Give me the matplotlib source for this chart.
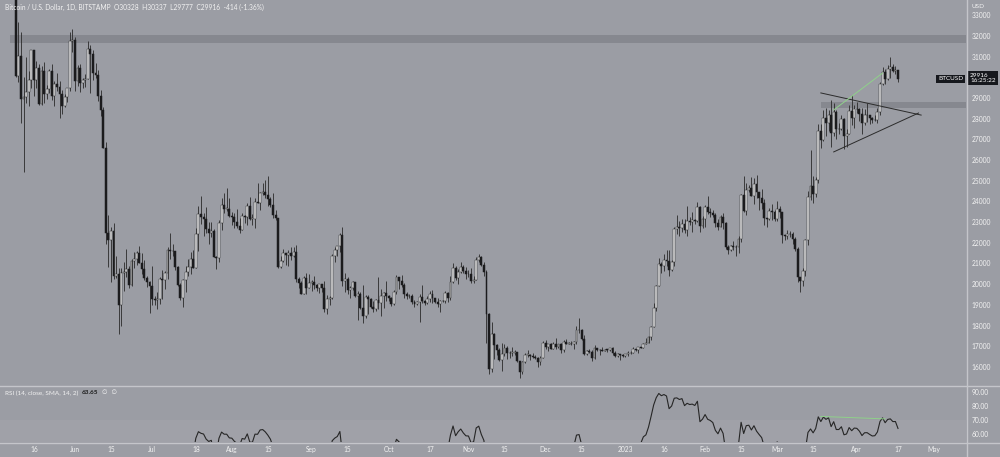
import numpy as np
import pandas as pd
import matplotlib
matplotlib.use("Agg")
import matplotlib.pyplot as plt
from matplotlib.lines import Line2D

# daily BTC/USD (Bitstamp), 2022-05-09 .. 2023-04-17
first_open = 34060
# closes 2022-04-01 .. 2022-05-08, above the visible range; only used to warm up the RSI
warmup_closes = [
    46300, 45800, 46400, 46600, 45500, 43200, 43450, 42250, 42750, 42160, 39530, 40070, 41150, 39940, 40550, 40400,
    39700, 40800, 41500, 41370, 40480, 39710, 39470, 39450, 40430, 38120, 39240, 39740, 38600, 37650, 38470, 38530,
    37750, 39690, 36550, 36010, 35470, 34060,
]
closes = [
    # May
    30080, 31020, 28940, 29050, 29280, 29850, 31300, 29860, 30430, 28700, 30300, 29180, 29430, 30280, 29100, 29650,
    29540, 29200, 28620, 29020, 29460, 31730, 31790,
    # Jun
    29800, 30450, 29700, 29860, 29910, 31370, 31130, 30200, 30100, 29090, 28420, 26580, 22490, 22130, 22580, 20390,
    20470, 19010, 20560, 20580, 20720, 19970, 21100, 21230, 21500, 21030, 20730, 20280, 20110, 19930,
    # Jul
    19300, 19250, 19300, 20230, 20190, 20550, 21640, 21590, 21590, 20850, 19960, 19330, 20220, 20590, 20830, 21200,
    20780, 22430, 23390, 23230, 23160, 22680, 22450, 22580, 21310, 21250, 22950, 23850, 23640, 23640, 23300,
    # Aug
    23270, 22990, 22820, 22620, 23310, 23260, 23800, 23150, 23150, 23950, 23940, 24400, 24440, 24300, 24100, 23850,
    23340, 23190, 20830, 21140, 21510, 21400, 21520, 21370, 21560, 20240, 20040, 19550, 20280, 19800, 20050,
    # Sep
    20130, 19950, 19830, 19990, 19800, 18790, 19290, 19320, 21360, 21650, 21830, 22400, 20170, 20230, 19700, 19800,
    20110, 19420, 19540, 18870, 18480, 19400, 19300, 18920, 18800, 19230, 19080, 19410, 19590, 19420,
    # Oct
    19310, 19060, 19630, 20340, 20160, 19960, 19530, 19420, 19440, 19130, 19060, 19160, 19380, 19180, 19070, 19270,
    19550, 19330, 19120, 19040, 19170, 19210, 19570, 19330, 20090, 20770, 20290, 20600, 20820, 20630, 20490,
    # Nov
    20480, 20160, 20210, 21150, 21300, 20910, 20600, 18540, 15880, 17590, 17070, 16810, 16330, 16620, 16900, 16660,
    16690, 16700, 16710, 16280, 15780, 16230, 16600, 16600, 16520, 16460, 16440, 16220, 16440, 17170,
    # Dec
    16980, 17090, 16890, 17110, 16970, 17090, 16840, 17230, 17130, 17130, 17090, 17210, 17780, 17810, 17360, 16630,
    16780, 16740, 16440, 16900, 16820, 16820, 16780, 16840, 16830, 16920, 16700, 16540, 16630, 16600, 16540,
    # Jan
    16610, 16670, 16670, 16850, 16830, 16950, 16940, 17120, 17180, 17440, 17940, 18850, 19930, 20960, 20880, 21180,
    21130, 20680, 21070, 22680, 22780, 22710, 22920, 22630, 23060, 23010, 23080, 23030, 23740, 22830, 23130,
    # Feb
    23730, 23490, 23430, 23330, 22940, 22760, 23240, 22960, 21800, 21630, 21860, 21790, 21780, 22200, 24330, 23520,
    24570, 24630, 24280, 24840, 24440, 24180, 23940, 23190, 23160, 23550, 23490, 23140,
    # Mar
    23630, 23470, 22360, 22350, 22430, 22410, 22200, 21700, 20360, 20150, 20620, 22140, 24200, 24750, 24380, 25050,
    27420, 26950, 28030, 27800, 28170, 27300, 28330, 27490, 27490, 27990, 27140, 27270, 28350, 28030, 28480,
    # Apr
    28450, 28200, 27800, 28170, 28180, 28040, 27920, 27950, 28330, 29650, 30230, 29900, 30400, 30490, 30320, 30328,
    29916,
]
highs = [
    34250, 32650, 32160, 30030, 30980, 30290, 31320, 31300, 30760, 30660, 30520, 30730, 29600, 30420, 30640, 29800,
    30200, 29820, 29370, 29210, 29500, 32200, 32340,
    31950, 30600, 30650, 29950, 30150, 31760, 31550, 31330, 30690, 30330, 29400, 28540, 26880, 23330, 22750, 22960,
    21350, 20770, 20770, 21050, 21700, 20870, 21200, 21540, 21600, 21860, 21520, 21180, 20420, 20150,
    20870, 19420, 19640, 20330, 20710, 20650, 21820, 22450, 21940, 21600, 20860, 20050, 20250, 20870, 21200, 21570,
    21650, 22700, 23780, 24270, 23420, 23750, 22990, 23000, 22660, 21370, 23080, 24180, 24420, 24650, 24170,
    23510, 23440, 23620, 23200, 23440, 23340, 23900, 24230, 23390, 24180, 24900, 24450, 24880, 25050, 25210, 24220,
    24430, 23580, 23200, 21360, 21700, 21510, 21650, 21820, 21810, 21880, 20340, 20140, 20400, 20560, 20470,
    20200, 20420, 20000, 20010, 20020, 20170, 19460, 19450, 21440, 21790, 21830, 22480, 22760, 20520, 20340, 19900,
    20170, 20100, 19680, 19600, 19940, 19490, 19480, 19310, 19180, 19300, 20340, 19760, 19640, 20160,
    19470, 19400, 19700, 20460, 20360, 20440, 20050, 19610, 19550, 19520, 19250, 19210, 19510, 19950, 19220, 19420,
    19660, 19700, 19350, 19330, 19240, 19250, 19690, 19600, 20400, 21020, 20870, 20750, 21080, 20930, 20840,
    20690, 20800, 20390, 21300, 21470, 21370, 21060, 20700, 18590, 18150, 17640, 17090, 16920, 17170, 17120, 17010,
    16750, 16970, 16820, 16740, 16300, 16270, 16680, 16800, 16610, 16700, 16600, 16480, 16530, 17240,
    17320, 17100, 17160, 17190, 17420, 17110, 17140, 17290, 17330, 17230, 17270, 17240, 17960, 18390, 17850, 17530,
    16800, 16860, 16820, 17060, 16910, 16870, 16950, 16860, 16860, 16930, 16960, 16770, 16660, 16640, 16630,
    16630, 16760, 16780, 16990, 16880, 16990, 16980, 17170, 17390, 17490, 17990, 19100, 19980, 21260, 21050, 21450,
    21630, 21650, 21190, 22750, 23340, 23060, 23160, 23170, 23780, 23270, 23490, 23170, 23960, 23800, 23300,
    23810, 24250, 23700, 23580, 23430, 23160, 23340, 23440, 22990, 21910, 21900, 22090, 21880, 22320, 24360, 25250,
    24870, 24770, 25190, 25120, 25280, 24470, 24600, 24130, 23210, 23680, 23880, 23600,
    24000, 23780, 23480, 22400, 22620, 22560, 22530, 22260, 21820, 20370, 20800, 22200, 24500, 26500, 25250, 25200,
    27750, 27740, 28420, 28500, 28400, 28900, 28750, 28400, 27780, 28180, 28030, 27490, 28650, 29160, 28650,
    28800, 28530, 28500, 28450, 28750, 28190, 28100, 28170, 28530, 29770, 30500, 30410, 30600, 31000, 30620, 30550,
    30337,
]
lows = [
    30030, 29750, 27780, 25400, 28750, 28600, 29480, 29100, 29480, 28650, 28680, 28750, 28950, 29230, 28900, 28630,
    29330, 28020, 28240, 28560, 28820, 29340, 31220,
    29350, 29590, 29280, 29480, 29520, 29890, 29220, 29850, 29970, 28860, 28150, 26560, 21930, 20850, 20100, 20250,
    20290, 17600, 17960, 19680, 20360, 19800, 19900, 20800, 20920, 21000, 20510, 20200, 19850, 18630,
    19000, 19000, 18780, 19050, 19290, 19780, 20250, 21200, 21340, 20680, 19890, 19240, 18910, 19640, 20400, 20500,
    20760, 20760, 21580, 22920, 22350, 22470, 21950, 22260, 21300, 20720, 21050, 22610, 23420, 23520, 23250,
    22850, 22700, 22700, 22450, 22600, 22980, 22880, 23100, 22870, 22700, 23900, 23590, 24300, 24150, 23790, 23710,
    23200, 23120, 20800, 20800, 21080, 20910, 20880, 21160, 21320, 20120, 19810, 19540, 19570, 19550, 19800,
    19650, 19780, 19660, 19590, 19640, 18660, 18540, 19000, 19300, 21060, 21370, 21560, 19900, 19620, 19510, 19330,
    19700, 19390, 18270, 18790, 18140, 18370, 18560, 18830, 18640, 18690, 18810, 18480, 18860, 19190,
    19170, 18950, 19000, 19520, 19770, 19880, 19320, 19270, 19320, 19040, 18880, 18990, 18190, 19090, 18980, 19060,
    19160, 19100, 19070, 18900, 18660, 19120, 19070, 19160, 19250, 20060, 20220, 20000, 20560, 20530, 20230,
    20330, 20050, 20060, 20180, 21080, 20880, 20390, 17170, 15680, 15750, 16370, 16600, 16300, 15820, 16530, 16400,
    16420, 16550, 16560, 16250, 15480, 15640, 16180, 16470, 16350, 16420, 16410, 16000, 16110, 16430,
    16860, 16790, 16870, 16880, 16880, 16910, 16690, 16740, 17100, 17090, 17070, 16870, 17090, 17660, 17280, 16570,
    16590, 16670, 16300, 16400, 16750, 16560, 16760, 16760, 16730, 16780, 16600, 16470, 16490, 16340, 16490,
    16500, 16550, 16610, 16660, 16750, 16680, 16910, 16910, 17110, 17150, 17320, 17930, 18720, 19890, 20560, 20620,
    20860, 20400, 20660, 20880, 22420, 22310, 22520, 22470, 22350, 22870, 22540, 22890, 22990, 22540, 22720,
    22760, 23380, 23240, 23260, 22760, 22630, 22740, 22680, 21700, 21460, 21600, 21640, 21370, 21530, 22060, 23510,
    23360, 24460, 24240, 23880, 24150, 23590, 23620, 22850, 22770, 23080, 23110, 23030,
    23030, 23200, 22000, 22150, 22200, 22280, 21940, 21600, 20100, 19600, 19900, 20400, 21900, 24080, 23900, 24200,
    24900, 26600, 26900, 27150, 27400, 26650, 27150, 27020, 27280, 27430, 26550, 26650, 27250, 27700, 27550,
    28250, 27880, 27280, 27680, 27830, 27730, 27790, 27880, 27810, 28180, 29610, 29680, 29880, 29950, 30240, 30140,
    29777,
]
start_date = "2022-05-09"

# horizontal zones / drawings (date, price)
upper_zone = (31650, 32040)
lower_zone = (28530, 28800)
lower_zone_start = "2023-03-18"
tri_top = [("2023-03-18", 29240), ("2023-04-26", 28170)]
tri_bottom = [("2023-03-23", 26390), ("2023-04-25", 28270)]
green_price = [("2023-03-23", 28420), ("2023-04-11", 30200)]
green_rsi = [("2023-03-18", 72.5), ("2023-04-12", 70.7)]

price_ticks = [16000, 17000, 18000, 19000, 20000, 21000, 22000, 23000, 24000, 25000, 26000, 27000, 28000,
               29000, 31000, 32000, 33000]
tick_dates = ["2022-05-16", "2022-06-01", "2022-06-15", "2022-07-01", "2022-07-18", "2022-08-01", "2022-08-15",
              "2022-09-01", "2022-09-15", "2022-10-01", "2022-10-17", "2022-11-01", "2022-11-15", "2022-12-01",
              "2022-12-15", "2023-01-01", "2023-01-16", "2023-02-01", "2023-02-15", "2023-03-01", "2023-03-15",
              "2023-04-01", "2023-04-17", "2023-05-01"]
tick_labels = ["16", "Jun", "15", "Jul", "18", "Aug", "15", "Sep", "15", "Oct", "17", "Nov", "15", "Dec",
               "15", "2023", "16", "Feb", "15", "Mar", "15", "Apr", "17", "May"]

BG = "#9b9da4"
TXT = "#f2f2f2"
SEP = "#c4c5ca"

assert len(closes) == len(highs) == len(lows)
c = np.array(closes, dtype=float)
o = np.concatenate([[first_open], c[:-1]])
h = np.maximum(np.array(highs, dtype=float), np.maximum(o, c))
l = np.minimum(np.array(lows, dtype=float), np.minimum(o, c))
t0 = pd.Timestamp(start_date)
idx = np.arange(len(c))


def day(s):
    return (pd.Timestamp(s) - t0).days


# RSI 14 (Wilder)
def rsi(vals, n=14):
    d = np.diff(vals)
    g = np.where(d > 0, d, 0.0)
    ls = np.where(d < 0, -d, 0.0)
    out = np.full(len(vals), np.nan)
    ag = g[:n].mean()
    al = ls[:n].mean()
    out[n] = 100 - 100 / (1 + ag / al)
    for i in range(n, len(d)):
        ag = (ag * (n - 1) + g[i]) / n
        al = (al * (n - 1) + ls[i]) / n
        out[i + 1] = 100 - 100 / (1 + ag / al) if al > 0 else 100
    return out


r = rsi(np.concatenate([warmup_closes, c]))[len(warmup_closes):]

fig = plt.figure(figsize=(10, 4.57), dpi=100, facecolor=BG)
plt.rcParams['font.family'] = ['Lato', 'DejaVu Sans']

ax = fig.add_axes([0, 72 / 457, 0.966, 385 / 457], facecolor=BG)
ax_r = fig.add_axes([0, 15 / 457, 0.966, 56 / 457], facecolor=BG)

px_day = 2.572
x0 = 15.8
xlim = (-x0 / px_day, (966 - x0) / px_day)
for a in (ax, ax_r):
    a.set_xlim(*xlim)
    for s in a.spines.values():
        s.set_visible(False)

# price panel
ax.set_ylim(15130, 33730)
ax.axhspan(upper_zone[0], upper_zone[1], xmin=(10 / 966), xmax=1, color="#86888f", zorder=0, lw=0)
ax.axhspan(lower_zone[0], lower_zone[1], xmin=(x0 + day(lower_zone_start) * px_day) / 966, xmax=1,
           color="#86888f", zorder=0, lw=0)

up = c >= o
ax.vlines(idx, l, h, color="#2a2a2a", lw=0.6, zorder=2)
body_bot = np.minimum(o, c)
body_h = np.maximum(np.abs(c - o), 25)
ax.bar(idx[up], body_h[up], bottom=body_bot[up], width=0.74, color="#e9e9ea", edgecolor="#2a2a2a", lw=0.35, zorder=3)
ax.bar(idx[~up], body_h[~up], bottom=body_bot[~up], width=0.74, color="#1b1b1d", edgecolor="#1b1b1d", lw=0.35, zorder=3)

for pts, col, lw in ((tri_top, "#2b2b2b", 0.7), (tri_bottom, "#2b2b2b", 0.7), (green_price, "#8fd18a", 0.7)):
    ax.plot([day(p[0]) for p in pts], [p[1] for p in pts], color=col, lw=lw, zorder=4)

ax.yaxis.tick_right()
ax.set_yticks(price_ticks)
ax.tick_params(axis="y", length=0, pad=4, labelsize=4.8, labelcolor=TXT)
ax.tick_params(axis="x", bottom=False, labelbottom=False)

ax.annotate("29916\n16:25:22", xy=(1, c[-1]), xycoords=("axes fraction", "data"), xytext=(3, 4.5),
            textcoords="offset points", ha="left", va="top", fontsize=4.6, color="white", linespacing=1.1,
            bbox=dict(boxstyle="square,pad=0.3", fc="#16181d", ec="none"), annotation_clip=False, zorder=6)
ax.annotate("BTCUSD", xy=(1, c[-1]), xycoords=("axes fraction", "data"), xytext=(-2, 0),
            textcoords="offset points", ha="right", va="center", fontsize=4.6, color="white",
            bbox=dict(boxstyle="square,pad=0.3", fc="#16181d", ec="none"), annotation_clip=False, zorder=6)

# RSI panel
ax_r.set_ylim(53.8, 94.75)
ax_r.axhspan(30, 70, color="white", alpha=0.05, lw=0, zorder=0)
ax_r.plot(idx, r, color="#262626", lw=0.8, zorder=3)
ax_r.plot([day(p[0]) for p in green_rsi], [p[1] for p in green_rsi], color="#8fd18a", lw=0.7, zorder=4)
ax_r.yaxis.tick_right()
ax_r.set_yticks([60, 70, 80, 90])
ax_r.set_yticklabels(["60.00", "70.00", "80.00", "90.00"])
ax_r.tick_params(axis="y", length=0, pad=4, labelsize=4.8, labelcolor=TXT)
ax_r.set_xticks([day(d) for d in tick_dates])
ax_r.set_xticklabels(tick_labels)
ax_r.tick_params(axis="x", length=0, pad=3, labelsize=4.8, labelcolor=TXT)

# separators
fig.add_artist(Line2D([0, 1], [1 - 385.5 / 457] * 2, color=SEP, lw=1))
fig.add_artist(Line2D([0, 1], [1 - 442.5 / 457] * 2, color=SEP, lw=1))
fig.add_artist(Line2D([0.9665, 0.9665], [0, 1], color=SEP, lw=1))

fig.text(0.005, 1 - 7 / 457, "Bitcoin / U.S. Dollar, 1D, BITSTAMP  O30328  H30337  L29777  C29916  -414 (-1.36%)",
         fontsize=4.8, color=TXT, va="center", ha="left")
fig.text(0.005, 1 - 393 / 457, "RSI (14, close, SMA, 14, 2)", fontsize=4.6, color=TXT, va="center", ha="left")
fig.text(0.082, 1 - 393 / 457, "63.65", fontsize=4.6, color="#1b1b1b", va="center", ha="left", weight="bold")
fig.text(0.102, 1 - 393 / 457, "\u2205  \u2205", fontsize=4.6, color=TXT, va="center", ha="left",
         family=["DejaVu Sans"])
fig.text(0.972, 1 - 6 / 457, "USD", fontsize=4.6, color=TXT, va="center", ha="left")

fig.savefig("out.png", dpi=100, facecolor=BG)
